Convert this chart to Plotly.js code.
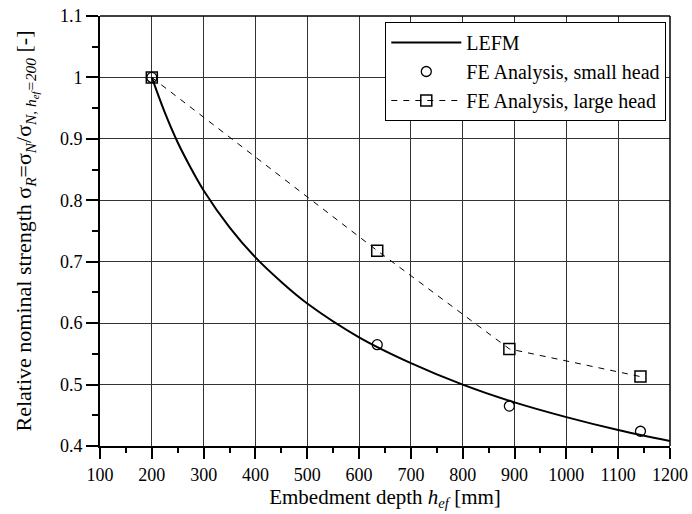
<!DOCTYPE html>
<html><head><meta charset="utf-8">
<script src="https://cdn.plot.ly/plotly-3.0.1.min.js"></script>
<style>body{margin:0;padding:0;background:#fff}#chart{width:692px;height:514px}</style>
</head><body><div id="chart"></div>
<script>
const lefmX = [200, 225, 250, 275, 300, 350, 400, 450, 500, 600, 700, 800, 900, 1000, 1100, 1200];
const lefmY = [1.0, 0.943, 0.894, 0.853, 0.816, 0.756, 0.707, 0.667, 0.632, 0.577, 0.535, 0.5, 0.471, 0.447, 0.426, 0.408];
const smallX = [200, 635, 890, 1143];
const smallY = [1.0, 0.565, 0.465, 0.424];
const largeX = [200, 635, 890, 1143];
const largeY = [1.0, 0.718, 0.558, 0.513];
const xTicks = [100,200,300,400,500,600,700,800,900,1000,1100,1200];
const yTicks = [0.4,0.5,0.6,0.7,0.8,0.9,1,1.1];
const yTickText = ['0.4','0.5','0.6','0.7','0.8','0.9','1','1.1'];

const traces = [
 {x: lefmX, y: lefmY, mode:'lines', name:'LEFM', line:{color:'#000', width:2, shape:'spline'}},
 {x: smallX, y: smallY, mode:'markers', name:'FE Analysis, small head',
  marker:{symbol:'circle-open', size:10, color:'#000', line:{width:1.3}}},
 {x: largeX, y: largeY, mode:'lines+markers', name:'FE Analysis, large head',
  line:{color:'#000', width:1, dash:'6px,6px'},
  marker:{symbol:'square-open', size:11, color:'#000', line:{width:1.5}}}
];
const FAM = 'Liberation Serif, Times New Roman, Times, serif';
const fnt = {family:FAM, size:18, color:'#000'};
const layout = {
 width:692, height:514,
 margin:{l:100, r:22, t:16, b:68},
 paper_bgcolor:'#fff', plot_bgcolor:'#fff',
 font: fnt,
 showlegend:true,
 legend:{x:0.9935, xanchor:'right', y:0.986, yanchor:'top', bgcolor:'#fff', bordercolor:'#000', borderwidth:1,
   font:{family:FAM, size:20, color:'#000'}, tracegroupgap:0, itemwidth:70},
 xaxis:{range:[100,1200], tickvals:xTicks, ticktext:xTicks.map(String), ticks:'outside', ticklen:11, tickwidth:2, tickcolor:'#000',
   showline:true, linecolor:'#000', linewidth:2, mirror:false, showgrid:true, gridcolor:'#333', gridwidth:1, zeroline:false,
   minor:{dtick:50, ticks:'outside', ticklen:5, tickwidth:2, tickcolor:'#000', showgrid:false},
   tickfont:fnt,
   title:{text:'Embedment depth <i>h<sub>ef</sub></i> [mm]', font:{family:FAM, size:21, color:'#000'}, standoff:4}},
 yaxis:{range:[0.4,1.1], tickvals:yTicks, ticktext:yTickText, ticks:'outside', ticklen:12, tickwidth:2, tickcolor:'#000',
   showline:true, linecolor:'#000', linewidth:2, showgrid:true, gridcolor:'#333', gridwidth:1, zeroline:false,
   minor:{dtick:0.05, ticks:'outside', ticklen:6, tickwidth:2, tickcolor:'#000', showgrid:false},
   tickfont:fnt,
   title:{text:'Relative nominal strength σ<sub><i>R</i></sub>=σ<sub><i>N</i></sub>/σ<sub><i>N, h<sub>ef</sub>=200</i></sub> [-]', font:{family:FAM, size:22, color:'#000'}, standoff:22}},
 shapes:[
  {type:'line', xref:'paper', yref:'paper', x0:0, x1:1, y0:1, y1:1, line:{color:'#000', width:1.5}},
  {type:'line', xref:'paper', yref:'paper', x0:1, x1:1, y0:0, y1:1, line:{color:'#000', width:1.5}}
 ]
};
Plotly.newPlot('chart', traces, layout, {displayModeBar:false, staticPlot:true});
</script></body></html>
